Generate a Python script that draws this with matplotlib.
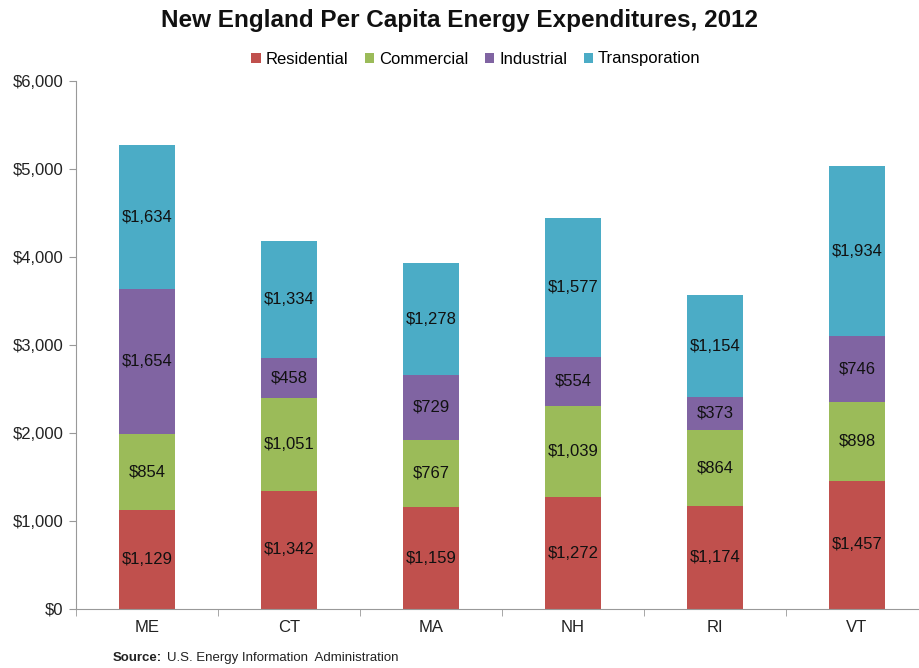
import matplotlib
matplotlib.use("Agg")
import matplotlib.pyplot as plt
import numpy as np

states = ["ME", "CT", "MA", "NH", "RI", "VT"]
series_names = ["Residential", "Commercial", "Industrial", "Transporation"]
residential = [1129, 1342, 1159, 1272, 1174, 1457]
commercial = [854, 1051, 767, 1039, 864, 898]
industrial = [1654, 458, 729, 554, 373, 746]
transportation = [1634, 1334, 1278, 1577, 1154, 1934]
colors = ["#C0504D", "#9BBB59", "#8064A2", "#4BACC6"]
yticks = [0, 1000, 2000, 3000, 4000, 5000, 6000]

plt.rcParams['font.family'] = ['Liberation Sans', 'DejaVu Sans']

fig = plt.figure(figsize=(9.19, 6.68), dpi=100)
ax = fig.add_axes([76/919, 1-609/668, 852/919, (609-81)/668])

x = np.arange(len(states))
bottom = np.zeros(len(states))
for name, vals, c in zip(series_names, [residential, commercial, industrial, transportation], colors):
    vals = np.array(vals, dtype=float)
    ax.bar(x, vals, 0.4, bottom=bottom, color=c, label=name, zorder=2)
    for xi, b, v in zip(x, bottom, vals):
        ax.text(xi, b + v/2, f"${int(v):,}", ha="center", va="center", fontsize=12, color="#111111", zorder=3)
    bottom += vals

ax.set_xlim(-0.5, len(states)-0.5)
ax.set_ylim(0, 6000)
ax.set_yticks(yticks)
ax.set_yticklabels([f"${v:,}" for v in yticks], fontsize=12, color="#222222")
ax.set_xticks(x)
ax.set_xticklabels(states, fontsize=12, color="#222222")
ax.tick_params(axis="x", length=0, pad=8)
ax.set_xticks(np.arange(len(states)+1)-0.5, minor=True)
ax.tick_params(axis="x", which="minor", length=5, color="#999999")
ax.tick_params(axis="y", length=5, color="#999999", pad=4)
for s in ["top", "right"]:
    ax.spines[s].set_visible(False)
for s in ["left", "bottom"]:
    ax.spines[s].set_color("#999999")

fig.text(0.5, 1-20/668, "New England Per Capita Energy Expenditures, 2012", ha="center", va="center",
         fontsize=17.5, fontweight="bold", color="#111111")
fig.legend(loc="center", bbox_to_anchor=(476/919, 1-59/668), ncol=4, frameon=False, fontsize=12,
           handlelength=0.55, handleheight=0.55, handletextpad=0.3, columnspacing=1.0)
fig.text(113/919, 1-658/668, "Source:", ha="left", va="center", fontsize=9.5, fontweight="bold", color="#222222")
fig.text(167/919, 1-658/668, "U.S. Energy Information  Administration", ha="left", va="center", fontsize=9.5, color="#222222")

fig.savefig("out.png", dpi=100)
